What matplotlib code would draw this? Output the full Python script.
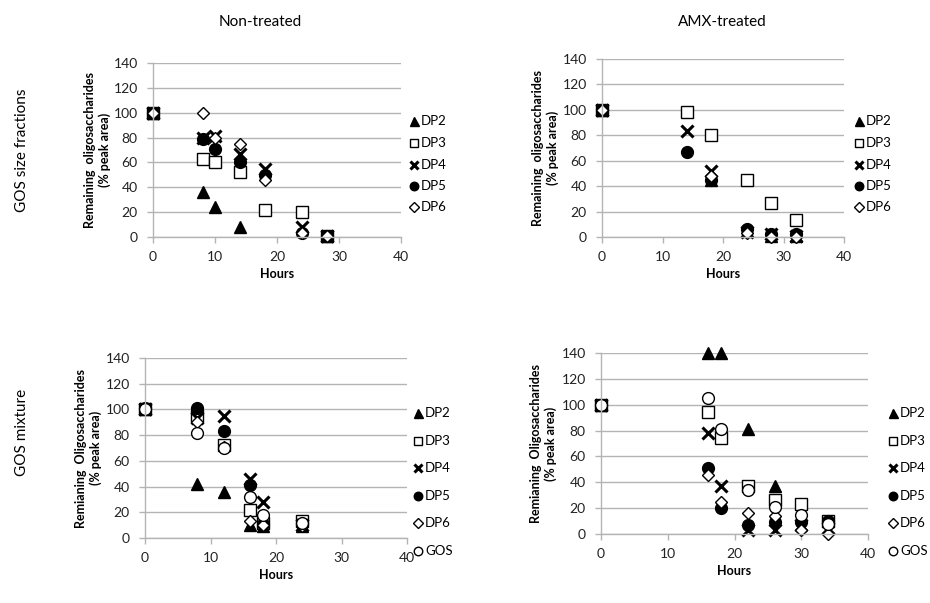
import matplotlib
matplotlib.use("Agg")
import matplotlib.pyplot as plt

plt.rcParams['font.family'] = ['Lato', 'DejaVu Sans']

series_names = ["DP2", "DP3", "DP4", "DP5", "DP6", "GOS"]

# Top-left: GOS size fractions, Non-treated
tl_x = {
    "DP2": [0, 8, 10, 14, 28],
    "DP3": [0, 8, 10, 14, 18, 24, 28],
    "DP4": [0, 8, 10, 14, 18, 24, 28],
    "DP5": [0, 8, 10, 14, 18, 24, 28],
    "DP6": [0, 8, 10, 14, 18, 24, 28],
}
tl_y = {
    "DP2": [100, 36, 24, 8, 1],
    "DP3": [100, 63, 60, 52, 22, 20, 1],
    "DP4": [100, 80, 81, 67, 55, 8, 1],
    "DP5": [100, 79, 71, 60, 50, 3, 1],
    "DP6": [100, 100, 80, 75, 46, 3, 1],
}

# Top-right: GOS size fractions, AMX-treated
tr_x = {
    "DP2": [0, 18, 24, 28, 32],
    "DP3": [0, 14, 18, 24, 28, 32],
    "DP4": [0, 14, 18, 24, 28, 32],
    "DP5": [0, 14, 18, 24, 28, 32],
    "DP6": [0, 18, 24, 28, 32],
}
tr_y = {
    "DP2": [100, 45, 5, 1, 1],
    "DP3": [100, 98, 80, 45, 27, 13],
    "DP4": [100, 83, 52, 4, 2, 1],
    "DP5": [100, 67, 45, 6, 2, 2],
    "DP6": [100, 48, 3, 0, 0],
}

# Bottom-left: GOS mixture, Non-treated
bl_x = {
    "DP2": [0, 8, 12, 16, 18, 24],
    "DP3": [0, 8, 12, 16, 18, 24],
    "DP4": [0, 8, 12, 16, 18, 24],
    "DP5": [0, 8, 12, 16, 18, 24],
    "DP6": [0, 8, 12, 16, 18, 24],
    "GOS": [0, 8, 12, 16, 18, 24],
}
bl_y = {
    "DP2": [100, 42, 36, 10, 9, 9],
    "DP3": [100, 95, 72, 22, 12, 13],
    "DP4": [100, 93, 95, 46, 28, 10],
    "DP5": [101, 101, 83, 41, 11, 11],
    "DP6": [100, 90, 71, 13, 10, 9],
    "GOS": [100, 82, 70, 32, 18, 12],
}

# Bottom-right: GOS mixture, AMX-treated
br_x = {
    "DP2": [0, 16, 18, 22, 26, 34],
    "DP3": [0, 16, 18, 22, 26, 30, 34],
    "DP4": [0, 16, 18, 22, 26, 30, 34],
    "DP5": [0, 16, 18, 22, 26, 30, 34],
    "DP6": [0, 16, 18, 22, 26, 30, 34],
    "GOS": [0, 16, 18, 22, 26, 30, 34],
}
br_y = {
    "DP2": [100, 140, 140, 81, 37, 10],
    "DP3": [100, 94, 74, 37, 26, 23, 10],
    "DP4": [100, 78, 37, 3, 3, 7, 5],
    "DP5": [100, 51, 20, 7, 9, 9, 10],
    "DP6": [100, 46, 25, 16, 14, 3, 0],
    "GOS": [100, 105, 81, 34, 21, 15, 8],
}

x_ticks = [0, 10, 20, 30, 40]
y_ticks = [0, 20, 40, 60, 80, 100, 120, 140]

styles = {
    "DP2": dict(marker="^", ms=9, mfc="black", mec="black"),
    "DP3": dict(marker="s", ms=8.5, mfc="white", mec="black", mew=1.0),
    "DP4": dict(marker="x", ms=8.5, mfc="black", mec="black", mew=2.2),
    "DP5": dict(marker="o", ms=8.5, mfc="black", mec="black"),
    "DP6": dict(marker="D", ms=6.5, mfc="white", mec="black", mew=1.0),
    "GOS": dict(marker="o", ms=8.5, mfc="white", mec="black", mew=1.0),
}

fig = plt.figure(figsize=(9.3, 6.03), dpi=100)
W, H = 930.0, 603.0

def make_axes(left, right, top, bottom):
    return fig.add_axes([left / W, 1 - bottom / H, (right - left) / W, (bottom - top) / H])

top_leg = [121, 143, 165, 186, 207]
bot_leg = [413, 441, 468, 496, 523, 551]
# (left, right, top, bottom) in pixels, ylabel right edge, legend x
panels = [
    ((153, 401, 63, 237), tl_x, tl_y, "Remaining  oligosaccharides\n(% peak area)", 111, (414, top_leg)),
    ((602, 844, 59, 237), tr_x, tr_y, "Remaining  oligosaccharides\n(% peak area)", 559, (859, top_leg)),
    ((145, 407, 358, 538), bl_x, bl_y, "Remianing  Oligosaccharides\n(% peak area)", 102, (418, bot_leg)),
    ((601, 868, 353, 534), br_x, br_y, "Remianing  Oligosaccharides\n(% peak area)", 557, (893, bot_leg)),
]

grid_c = "#b4b4b4"
for box, xs, ys, ylab, ylx, (lx, lys) in panels:
    ax = make_axes(*box)
    for name in series_names:
        if name in xs:
            ax.plot(xs[name], ys[name], linestyle="none", clip_on=False, **styles[name])
    ax.set_xlim(0, 40)
    ax.set_ylim(0, 140)
    ax.set_xticks(x_ticks)
    ax.set_yticks(y_ticks)
    ax.grid(axis="y", color=grid_c, lw=1.0)
    ax.set_axisbelow(True)
    for s in ("top", "right"):
        ax.spines[s].set_visible(False)
    for s in ("left", "bottom"):
        ax.spines[s].set_color(grid_c)
        ax.spines[s].set_linewidth(1.0)
    ax.tick_params(axis="both", colors=grid_c, length=4, width=1.0, labelsize=10,
                   labelcolor="#222222")
    ax.tick_params(axis="x", pad=6)
    ax.tick_params(axis="y", pad=7)
    ax.set_xlabel("Hours", fontsize=9, fontweight="bold", labelpad=4)
    ax.set_ylabel(ylab, fontsize=9, fontweight="bold")
    ax.yaxis.set_label_coords((ylx - box[0]) / (box[1] - box[0]), 0.5)
    names = [n for n in series_names if n in xs]
    for name, ly in zip(names, lys):
        st = dict(styles[name])
        ms = st.pop("ms") * 0.72
        fig.add_artist(plt.Line2D([lx / W], [1 - ly / H], linestyle="none",
                                  transform=fig.transFigure, ms=ms, **st))
        fig.text((lx + 7) / W, 1 - ly / H, name, fontsize=9.5, va="center", ha="left")

fig.text(260 / W, 1 - 22 / H, "Non-treated", fontsize=11, ha="center", va="center")
fig.text(722 / W, 1 - 22 / H, "AMX-treated", fontsize=11, ha="center", va="center")
fig.text(22 / W, 1 - 150 / H, "GOS size fractions", fontsize=11, ha="center", va="center", rotation=90)
fig.text(22 / W, 1 - 432 / H, "GOS mixture", fontsize=11, ha="center", va="center", rotation=90)

fig.savefig("out.png", dpi=100)
